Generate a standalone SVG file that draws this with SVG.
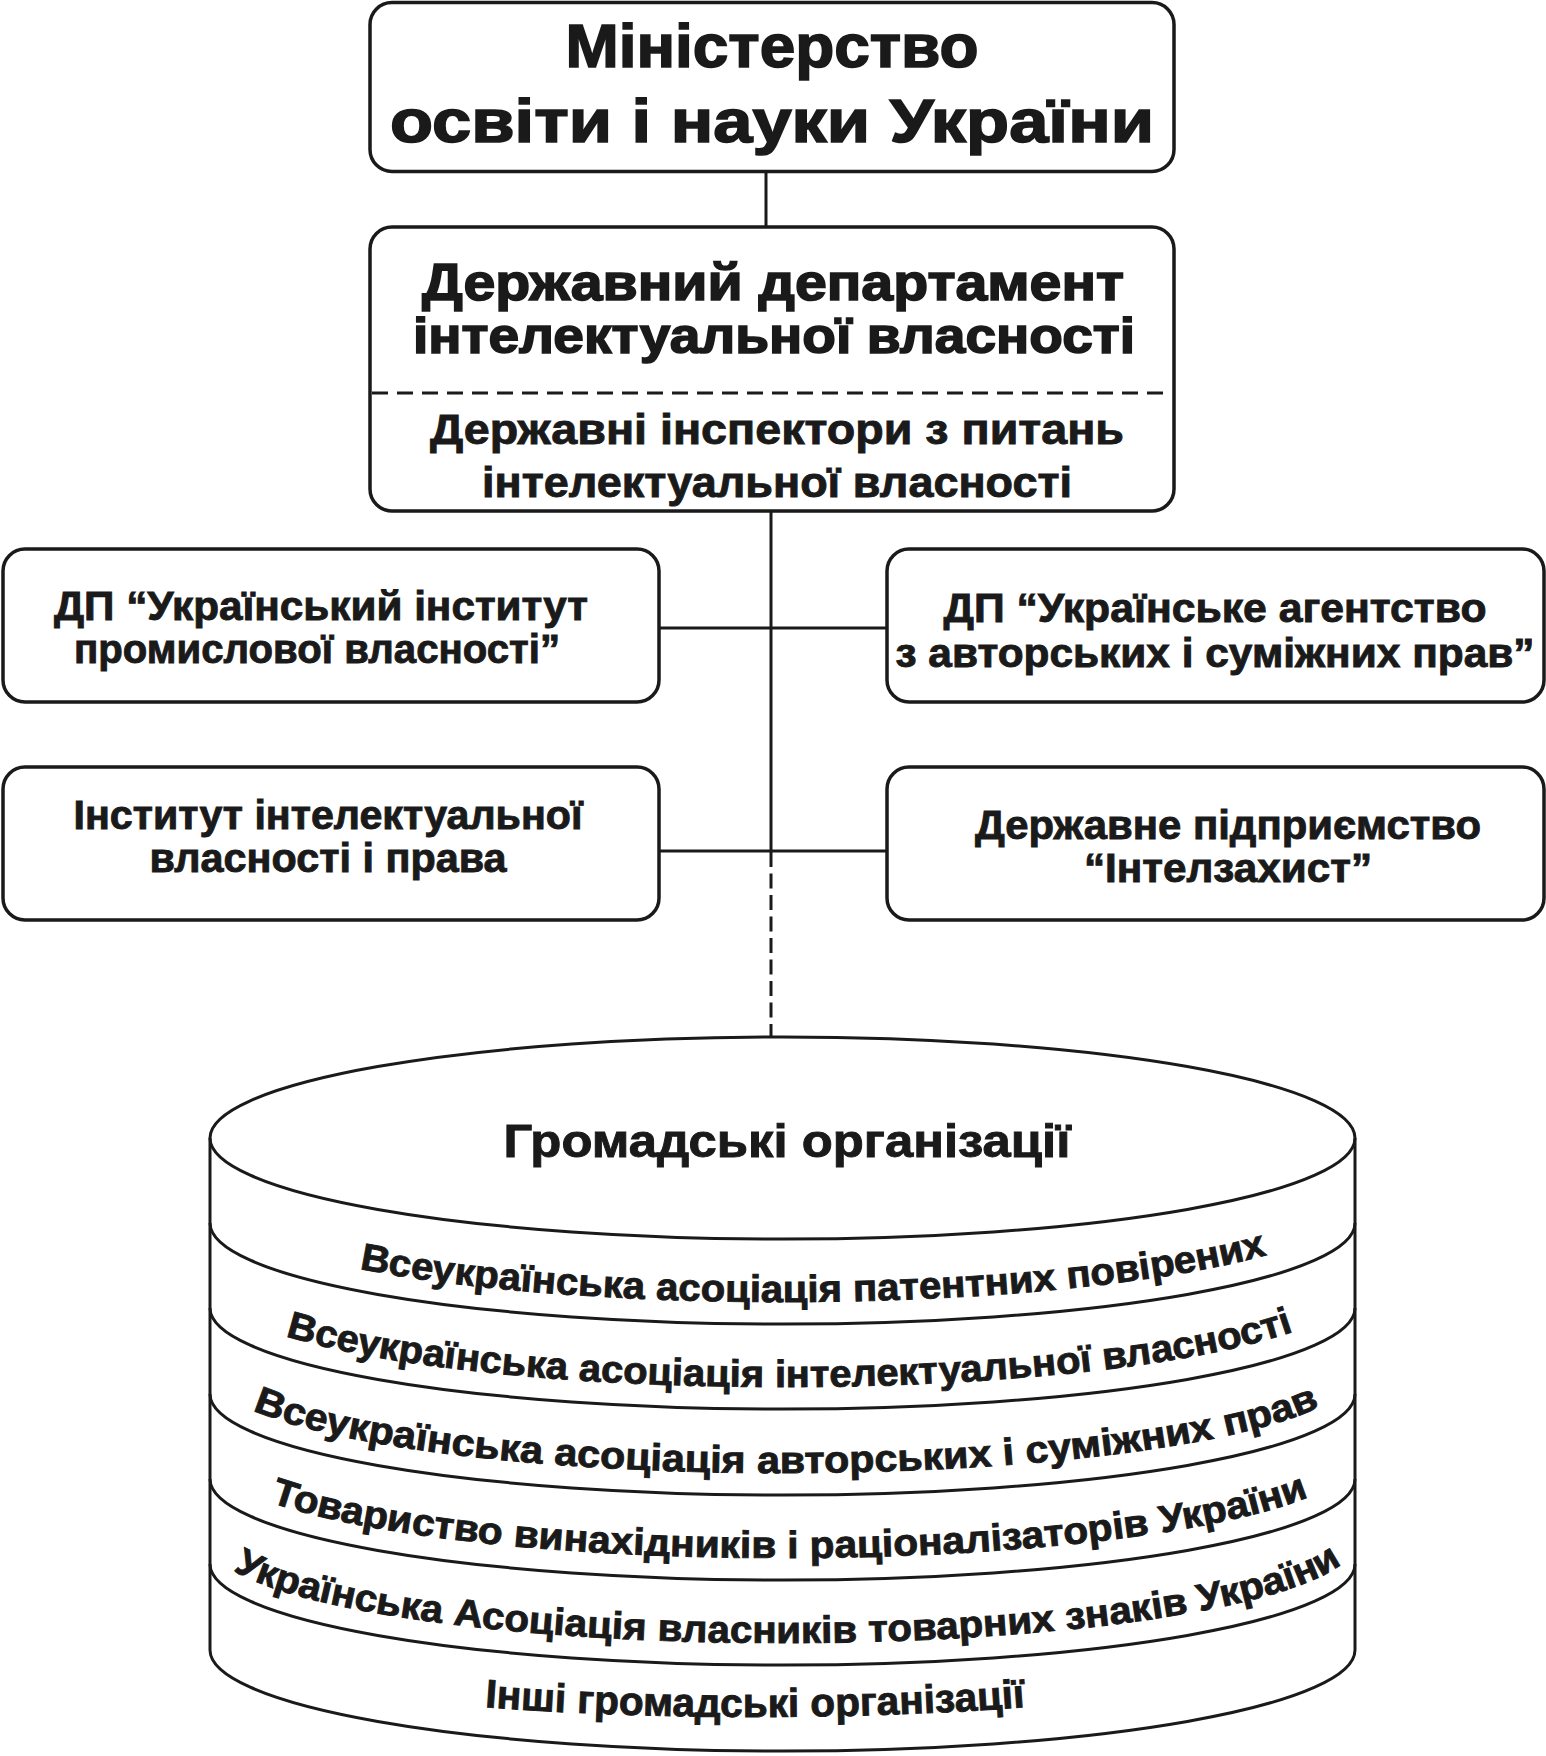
<svg xmlns="http://www.w3.org/2000/svg" width="1546" height="1756" viewBox="0 0 1546 1756">
<style>
.box{fill:#fff;stroke:#1a1a1a;stroke-width:3.5}
.ln{fill:none;stroke:#1a1a1a;stroke-width:3}
.dash{fill:none;stroke:#1a1a1a;stroke-width:3;stroke-dasharray:16 9}
.cyl{fill:none;stroke:#1a1a1a;stroke-width:3}
text{font-family:'Liberation Sans',Arial,sans-serif;font-weight:bold;fill:#1a1a1a;stroke:#1a1a1a;stroke-width:0.9}
.big{stroke-width:1.6}
.c{text-anchor:middle}
</style>
<defs>
<path id="p1" d="M210 1201 A572.5 101 0 0 0 1355 1201"/>
<path id="p2" d="M210 1286 A572.5 101 0 0 0 1355 1286"/>
<path id="p3" d="M210 1372 A572.5 101 0 0 0 1355 1372"/>
<path id="p4" d="M210 1457 A572.5 101 0 0 0 1355 1457"/>
<path id="p5" d="M210 1542 A572.5 101 0 0 0 1355 1542"/>
<path id="p6" d="M455 1705 Q755 1729 1055 1705"/>
</defs>
<rect width="1546" height="1756" fill="#fff"/>

<g id="connectors">
<line class="ln" x1="766" y1="172" x2="766" y2="227"/>
<line class="ln" x1="771" y1="511" x2="771" y2="852"/>
<line class="ln" x1="771" y1="852" x2="771" y2="1060" style="stroke-dasharray:15 6.5"/>
<line class="ln" x1="659" y1="628" x2="887" y2="628"/>
<line class="ln" x1="659" y1="851" x2="887" y2="851"/>
</g>

<g id="ministry">
<rect class="box" x="370" y="2.5" width="804" height="169" rx="22"/>
<text class="c big" x="772" y="67" font-size="61" textLength="413" lengthAdjust="spacingAndGlyphs">Міністерство</text>
<text class="c big" x="772" y="142" font-size="61" textLength="764" lengthAdjust="spacingAndGlyphs">освіти і науки України</text>
</g>

<g id="department">
<rect class="box" x="370" y="227" width="804" height="284" rx="22"/>
<line class="dash" x1="372" y1="393" x2="1172" y2="393"/>
<text class="c big" x="773" y="300" font-size="52" textLength="702" lengthAdjust="spacingAndGlyphs">Державний департамент</text>
<text class="c big" x="774" y="353" font-size="50" textLength="722" lengthAdjust="spacingAndGlyphs">інтелектуальної власності</text>
<text class="c" x="777" y="444" font-size="43" textLength="694" lengthAdjust="spacingAndGlyphs">Державні інспектори з питань</text>
<text class="c" x="777" y="497" font-size="43" textLength="590" lengthAdjust="spacingAndGlyphs">інтелектуальної власності</text>
</g>

<g id="dp-uipv">
<rect class="box" x="3" y="549" width="656" height="153" rx="22"/>
<text class="c" x="321" y="620" font-size="40" textLength="534" lengthAdjust="spacingAndGlyphs">ДП “Український інститут</text>
<text class="c" x="317" y="663" font-size="40" textLength="486" lengthAdjust="spacingAndGlyphs">промислової власності”</text>
</g>

<g id="dp-uaasp">
<rect class="box" x="887" y="549" width="657" height="153" rx="22"/>
<text class="c" x="1215" y="622" font-size="40" textLength="543" lengthAdjust="spacingAndGlyphs">ДП “Українське агентство</text>
<text class="c" x="1215" y="667" font-size="40" textLength="639" lengthAdjust="spacingAndGlyphs">з авторських і суміжних прав”</text>
</g>

<g id="iivp">
<rect class="box" x="3" y="767" width="656" height="153" rx="22"/>
<text class="c" x="328" y="829" font-size="40" textLength="509" lengthAdjust="spacingAndGlyphs">Інститут інтелектуальної</text>
<text class="c" x="328" y="872" font-size="40" textLength="357" lengthAdjust="spacingAndGlyphs">власності і права</text>
</g>

<g id="intelzakhyst">
<rect class="box" x="887" y="767" width="657" height="153" rx="22"/>
<text class="c" x="1228" y="839" font-size="40" textLength="506" lengthAdjust="spacingAndGlyphs">Державне підприємство</text>
<text class="c" x="1228" y="882" font-size="40" textLength="288" lengthAdjust="spacingAndGlyphs">“Інтелзахист”</text>
</g>

<g id="public-organizations">
<rect x="210" y="1138" width="1145" height="512" fill="#fff"/>
<ellipse cx="782.5" cy="1138" rx="572.5" ry="101" fill="#fff"/>
<path d="M210 1650 A572.5 101 0 0 0 1355 1650 Z" fill="#fff"/>
<ellipse class="cyl" cx="782.5" cy="1138" rx="572.5" ry="101"/>
<line class="cyl" x1="210" y1="1138" x2="210" y2="1650"/>
<line class="cyl" x1="1355" y1="1138" x2="1355" y2="1650"/>
<path class="cyl" d="M210 1223 A572.5 101 0 0 0 1355 1223"/>
<path class="cyl" d="M210 1308 A572.5 101 0 0 0 1355 1308"/>
<path class="cyl" d="M210 1394 A572.5 101 0 0 0 1355 1394"/>
<path class="cyl" d="M210 1479 A572.5 101 0 0 0 1355 1479"/>
<path class="cyl" d="M210 1564 A572.5 101 0 0 0 1355 1564"/>
<path class="cyl" d="M210 1650 A572.5 101 0 0 0 1355 1650"/>
<text class="c" x="787" y="1157" font-size="46" textLength="567" lengthAdjust="spacingAndGlyphs">Громадські організації</text>
<text font-size="38"><textPath href="#p1" startOffset="171" textLength="913" lengthAdjust="spacingAndGlyphs">Всеукраїнська асоціація патентних повірених</textPath></text>
<text font-size="38"><textPath href="#p2" startOffset="95" textLength="1017" lengthAdjust="spacingAndGlyphs">Всеукраїнська асоціація інтелектуальної власності</textPath></text>
<text font-size="38"><textPath href="#p3" startOffset="60" textLength="1080" lengthAdjust="spacingAndGlyphs">Всеукраїнська асоціація авторських і суміжних прав</textPath></text>
<text font-size="38"><textPath href="#p4" startOffset="79" textLength="1049" lengthAdjust="spacingAndGlyphs">Товариство винахідників і раціоналізаторів України</textPath></text>
<text font-size="38"><textPath href="#p5" startOffset="38" textLength="1128" lengthAdjust="spacingAndGlyphs">Українська Асоціація власників товарних знаків України</textPath></text>
<text font-size="40" class="c"><textPath href="#p6" startOffset="50%" textLength="541" lengthAdjust="spacingAndGlyphs">Інші громадські організації</textPath></text>
</g>
</svg>
